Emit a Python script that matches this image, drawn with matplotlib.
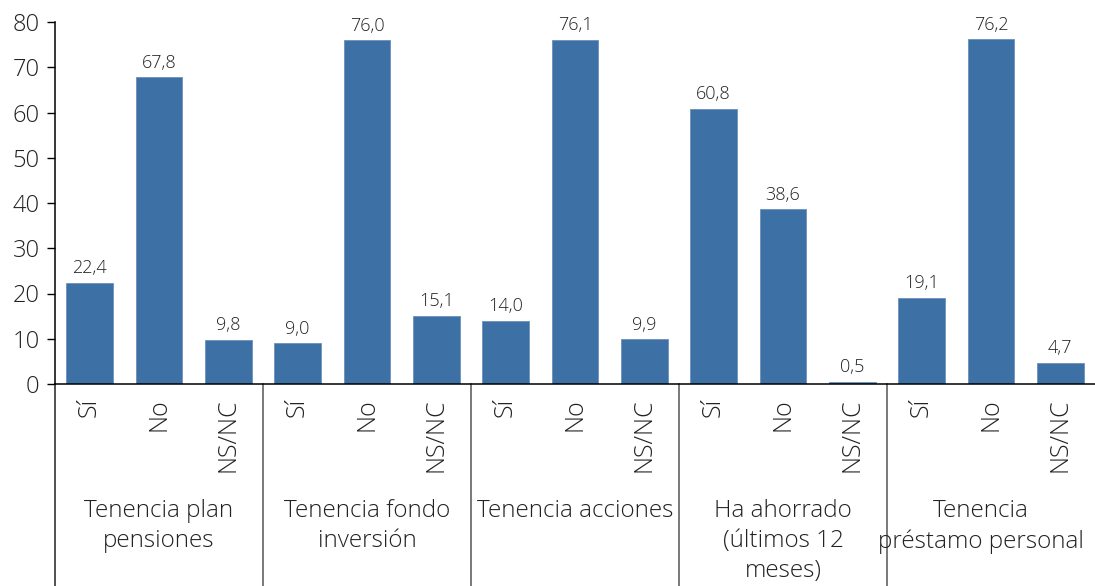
import matplotlib
matplotlib.use("Agg")
import matplotlib.pyplot as plt
import numpy as np

groups = ["Tenencia plan\npensiones", "Tenencia fondo\ninversión", "Tenencia acciones",
          "Ha ahorrado\n(últimos 12\nmeses)", "Tenencia\npréstamo personal"]
answers = ["Sí", "No", "NS/NC"]
values = [22.4, 67.8, 9.8,
          9.0, 76.0, 15.1,
          14.0, 76.1, 9.9,
          60.8, 38.6, 0.5,
          19.1, 76.2, 4.7]
yticks = [0, 10, 20, 30, 40, 50, 60, 70, 80]

plt.rcParams['font.family'] = ['Open Sans', 'DejaVu Sans']
W, H = 1095, 586
fig = plt.figure(figsize=(W/100, H/100), dpi=100)
x0, x1, y0, y1 = 55, 1095, 384, 22
ax = fig.add_axes([x0/W, 1 - y0/H, (x1-x0)/W, (y0-y1)/H])

color = "#3D70A4"
n = len(values)
xs = np.arange(n)
ax.bar(xs, values, width=0.67, color=color, edgecolor="#6a90bb", linewidth=0.6)
ax.set_xlim(-0.5, n - 0.5)
ax.set_ylim(0, 80)
ax.set_yticks(yticks)
ax.set_yticklabels([str(t) for t in yticks], fontsize=17, color="#222222", fontweight="light")
ax.tick_params(axis='y', direction='out', length=6, width=1, pad=5)
ax.tick_params(axis='x', length=0, labelbottom=False)
for s in ["top", "right"]:
    ax.spines[s].set_visible(False)
ax.spines["left"].set_linewidth(1.1)
ax.spines["bottom"].set_linewidth(1.1)

for x, v in zip(xs, values):
    ax.annotate(f"{v:.1f}".replace(".", ","), (x, v), xytext=(0, 4), textcoords="offset points",
                ha="center", va="bottom", fontsize=13, color="#222222", fontweight="light")

trans = ax.get_xaxis_transform()
axh = y0 - y1
for x, lab in zip(xs, answers * len(groups)):
    ax.text(x, -14/axh, lab, rotation=90, ha="center", va="top", transform=trans,
            fontsize=18, color="#222222", fontweight="light")

for g, name in enumerate(groups):
    xc = 3*g + 1 - (0.15 if g == len(groups) - 1 else 0)
    ax.text(xc, -(499 - y0)/axh, name, ha="center", va="top", transform=trans,
            fontsize=17.5, color="#222222", fontweight="light", linespacing=1.33)

bottom = -(H - y0)/axh
for g in range(len(groups)):
    xb = 3*g - 0.5
    ax.plot([xb, xb], [0, bottom], transform=trans, color="#222222" if g == 0 else "#555555",
            linewidth=1.1, clip_on=False)

fig.savefig("out.png", dpi=100)
